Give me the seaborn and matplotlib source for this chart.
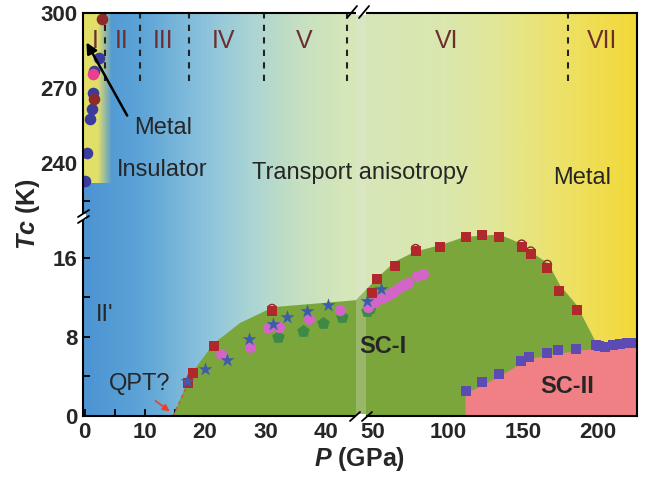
import numpy as np
import pandas as pd
import matplotlib
matplotlib.use("Agg")
import matplotlib.pyplot as plt
import seaborn as sns
from matplotlib.colors import LinearSegmentedColormap

# ---------------- data ----------------
# high-temperature panel (K) : metal/insulator transition points
hiT_blue_p = [0.0, 0.35, 0.9, 1.2, 1.35, 1.6, 2.45]
hiT_blue_t = [232.8, 244.0, 257.6, 261.6, 268.0, 277.0, 282.0]
hiT_red_p = [1.6, 2.85]
hiT_red_t = [265.6, 297.6]
hiT_pink_p = [1.35]
hiT_pink_t = [275.5]

# superconducting Tc (K)
sq_p = [17.2, 18.05, 21.5, 31.1, 49.1, 52.9, 64.7, 78.4, 94.7, 112.0, 122.4,
        133.8, 149.1, 155.1, 166.2, 174.0, 185.8]
sq_t = [3.3, 4.3, 7.07, 10.6, 12.45, 13.8, 15.15, 16.67, 17.04, 18.05, 18.25,
        18.1, 17.1, 16.36, 14.98, 12.66, 10.7]
ring_p = [31.1, 78.4, 149.1, 155.1, 166.2]
ring_t = [10.85, 16.9, 17.35, 16.65, 15.3]
star_p = [16.95, 20.0, 23.7, 27.2, 31.3, 33.5, 36.85, 40.3, 46.0, 55.3]
star_t = [3.54, 4.7, 5.66, 7.78, 9.3, 10.0, 10.64, 11.2, 11.65, 12.8]
pinkc_p = [22.6, 27.45, 30.5, 32.25, 37.2, 42.4, 46.9, 51.3, 55.8, 60.2, 63.6,
           66.9, 70.2, 73.6, 79.1, 83.6]
pinkc_t = [6.26, 7.0, 8.86, 8.96, 9.8, 10.7, 11.04, 11.55, 11.9, 12.2, 12.55,
           12.9, 13.2, 13.4, 14.1, 14.3]
pent_p = [32.1, 36.3, 39.5, 42.65, 46.3, 47.8]
pent_t = [8.0, 8.6, 9.4, 10.0, 10.6, 10.9]
purp_p = [112.0, 122.4, 134.0, 148.7, 154.2, 165.8, 173.1, 185.3, 198.4, 200.9,
          204.7, 210.2, 214.7, 219.0, 223.5]
purp_t = [2.56, 3.4, 4.2, 5.6, 6.0, 6.4, 6.67, 6.77, 7.17, 7.1, 7.0, 7.17,
          7.27, 7.34, 7.4]

# phase regions
dome_p = [14.7, 16.7, 18.0, 21.4, 25.8, 31.3, 40.2, 45.0, 46.9, 54.7, 64.7, 78.0,
          95.8, 111.3, 131.3, 134.7, 149.1, 156.9, 166.9, 174.7, 185.8, 198.4,
          200.5, 200.5]
dome_t = [0.0, 2.9, 4.5, 7.3, 9.4, 11.0, 11.45, 11.7, 13.0, 14.2, 15.6, 16.6,
          17.3, 18.1, 18.3, 18.3, 17.4, 16.4, 15.4, 13.2, 11.2, 7.5, 6.9, 0.0]
sc2_p = [111.3, 122.4, 133.6, 148.0, 154.7, 165.8, 185.8, 201.3, 226.0]
sc2_t = [2.3, 3.1, 4.0, 5.3, 5.8, 6.2, 6.6, 6.9, 7.2]
qpt_p = [14.7, 17.2]
qpt_t = [0.0, 3.3]

phase_names = ["I", "II", "III", "IV", "V", "VI", "VII"]
phase_name_p = [1.8, 6.2, 13.0, 23.0, 36.4, 99.3, 203.0]
phase_bound_p = [3.4, 9.2, 17.4, 29.8, 43.6, 179.8]

x_major = [0, 10, 20, 30, 40, 50, 100, 150, 200]
x_minor = [5, 15, 25, 35, 75, 125, 175]
y_major = [0, 8, 16, 240, 270, 300]
y_minor = [4, 12, 225, 255, 285]

# ---------------- style ----------------
sns.set_theme(style="white")
plt.rcParams["font.family"] = ["Liberation Sans", "DejaVu Sans"]
plt.rcParams["mathtext.fontset"] = "custom"
plt.rcParams["mathtext.it"] = "Liberation Sans:italic:bold"
plt.rcParams["mathtext.rm"] = "Liberation Sans:bold"

RED = "#b0282b"
DARKRED = "#8e2a2a"
NAVY = "#3a3b9c"
MAGENTA = "#ea3f8a"
STAR = "#3d5cab"
PINKC = "#d465c8"
PENT = "#3e8a44"
PURPLE = "#5b4bb3"
GREEN = "#7aa63c"
SALMON = "#f07f86"
BROWN = "#6e2e2e"


def make_piecewise(kx, ky):
    kx = np.asarray(kx, float)
    ky = np.asarray(ky, float)
    s0 = (ky[1] - ky[0]) / (kx[1] - kx[0])
    s1 = (ky[-1] - ky[-2]) / (kx[-1] - kx[-2])

    def f(v):
        v = np.asarray(v, float)
        out = np.interp(v, kx, ky)
        out = np.where(v < kx[0], ky[0] + (v - kx[0]) * s0, out)
        out = np.where(v > kx[-1], ky[-1] + (v - kx[-1]) * s1, out)
        return out
    return f


XK_D = [0, 45, 45.05, 226]
XK_P = [0, 271.35, 281.075, 552.5]
YK_D = [0, 20.2, 219, 300]
YK_P = [0, 199.98, 200.5, 403]

fig = plt.figure(figsize=(6.57, 4.80), dpi=100)
ax = fig.add_axes([83 / 657, 64 / 480, 554 / 657, 403 / 480])
ax.set_xscale("function", functions=(make_piecewise(XK_D, XK_P), make_piecewise(XK_P, XK_D)))
ax.set_yscale("function", functions=(make_piecewise(YK_D, YK_P), make_piecewise(YK_P, YK_D)))

# background gradient (axes coordinates)
stops = [(0.00, (76, 148, 210)), (0.10, (92, 163, 215)), (0.22, (140, 195, 220)),
         (0.30, (170, 212, 212)), (0.38, (195, 223, 195)), (0.47, (213, 230, 185)),
         (0.65, (218, 232, 175)), (0.75, (226, 231, 150)), (0.85, (236, 226, 110)),
         (1.00, (243, 217, 55))]
bg_cmap = LinearSegmentedColormap.from_list(
    "bg", [(s, tuple(c / 255 for c in col)) for s, col in stops])
grad = np.linspace(0, 1, 600)[None, :]
ax.imshow(grad, cmap=bg_cmap, extent=[0, 1, 0, 1], transform=ax.transAxes,
          aspect="auto", zorder=0, interpolation="bilinear")

# metal strip at low pressure / high T
strip = np.zeros((2, 60, 4))
strip[..., 0] = 226 / 255
strip[..., 1] = 223 / 255
strip[..., 2] = 105 / 255
alpha = np.clip((1 - np.linspace(0, 1, 60)) / 0.5, 0, 1)
strip[..., 3] = alpha[None, :]
ax.imshow(strip, extent=[-0.25, 4.5, 232, 300], aspect="auto", zorder=1,
          interpolation="bilinear")

# SC-I dome and SC-II region
ax.fill(dome_p, dome_t, color=GREEN, lw=0, zorder=2)
ax.fill_between(sc2_p, 0, sc2_t, color=SALMON, lw=0, zorder=3)
ax.plot(qpt_p, qpt_t, color="#e0503c", ls=(0, (2, 2)), lw=1.2, zorder=3)

# gap band of broken axis
ax.axvspan(45.0, 45.05, facecolor="#e6e6e0", alpha=0.28, lw=0, zorder=4)

# phase boundaries
ax.vlines(phase_bound_p, 273, 300, colors="#222222", linestyles=(0, (3, 3)),
          lw=1.5, zorder=4)
for name, p in zip(phase_names, phase_name_p):
    ax.text(p, 289, name, color=BROWN, fontsize=18, ha="center", va="center", zorder=6)

# scatter series
ax.scatter(ring_p, ring_t, s=36, facecolors="none", edgecolors=DARKRED, linewidths=1.0, zorder=5)
sns.scatterplot(x=sq_p, y=sq_t, marker="s", s=60, color=RED, linewidth=0, ax=ax, zorder=6)
sns.scatterplot(x=purp_p, y=purp_t, marker="s", s=55, color=PURPLE, linewidth=0, ax=ax, zorder=6)
sns.scatterplot(x=pent_p, y=pent_t, marker="p", s=90, color=PENT, linewidth=0, ax=ax, zorder=5)
sns.scatterplot(x=pinkc_p, y=pinkc_t, marker="o", s=65, color=PINKC, linewidth=0, ax=ax, zorder=5)
sns.scatterplot(x=star_p, y=star_t, marker="*", s=110, color=STAR, linewidth=0, ax=ax, zorder=6)
sns.scatterplot(x=hiT_blue_p, y=hiT_blue_t, marker="o", s=70, color=NAVY, linewidth=0, ax=ax, zorder=6)
sns.scatterplot(x=hiT_red_p, y=hiT_red_t, marker="o", s=70, color=DARKRED, linewidth=0, ax=ax, zorder=6)
sns.scatterplot(x=hiT_pink_p, y=hiT_pink_t, marker="o", s=70, color=MAGENTA, linewidth=0, ax=ax, zorder=7)

# labels
ax.annotate("", xy=(0.1, 289.2), xytext=(7.3, 258),
            arrowprops=dict(arrowstyle="-|>", color="black", lw=1.8, mutation_scale=16),
            zorder=7)
ax.text(13.1, 254, "Metal", fontsize=17, ha="center", va="center", zorder=7)
ax.text(12.9, 237, "Insulator", fontsize=17, ha="center", va="center", zorder=7)
ax.text(27.8, 236, "Transport anisotropy", fontsize=17, ha="left", va="center", zorder=7)
ax.text(189.3, 234, "Metal", fontsize=17, ha="center", va="center", zorder=7)
ax.text(3.4, 10.2, "II'", fontsize=17, ha="center", va="center", zorder=7)
ax.text(9.2, 3.2, "QPT?", fontsize=17, ha="center", va="center", zorder=7)
ax.text(56.7, 7.0, "SC-I", fontsize=17, fontweight="bold", ha="center", va="center", zorder=7)
ax.text(179.3, 3.0, "SC-II", fontsize=17, fontweight="bold", ha="center", va="center", zorder=7)
ax.annotate("", xy=(14.5, 0.3), xytext=(11.4, 1.7),
            arrowprops=dict(arrowstyle="-|>", color="#e8412c", lw=1.2, mutation_scale=10),
            zorder=7)

# axes
ax.set_xlim(-0.25, 226)
ax.set_ylim(0, 300)
ax.set_xticks(x_major)
ax.set_xticks(x_minor, minor=True)
ax.set_yticks(y_major)
ax.set_yticks(y_minor, minor=True)
ax.set_xticklabels([str(v) for v in x_major])
ax.set_yticklabels([str(v) for v in y_major])
ax.tick_params(which="both", direction="in", length=5, width=1.3, color="black",
               bottom=True, left=True, top=False, right=False, pad=4)
ax.tick_params(which="major", labelsize=16)
for lab in ax.get_xticklabels() + ax.get_yticklabels():
    lab.set_fontweight("bold")
for sp in ax.spines.values():
    sp.set_visible(True)
    sp.set_color("black")
    sp.set_linewidth(1.5)
    sp.set_zorder(8)

ax.set_xlabel(r"$P$ (GPa)", fontsize=18, fontweight="bold", labelpad=2)
ax.set_ylabel(r"$Tc$ (K)", fontsize=18, fontweight="bold", labelpad=-1)


# broken-axis marks (pixel positions -> axes fraction)
def pa(x, y):
    return (x - 83) / 554, (416 - y) / 403


def mark(x0, y0, x1, y1):
    a, b = pa(x0, y0)
    c, d = pa(x1, y1)
    ax.plot([a, c], [b, d], transform=ax.transAxes, color="black", lw=1.3,
            clip_on=False, zorder=10)


def gap(x0, y0, x1, y1):
    a, b = pa(x0, y0)
    c, d = pa(x1, y1)
    ax.add_patch(plt.Rectangle((min(a, c), min(b, d)), abs(c - a), abs(d - b),
                               transform=ax.transAxes, facecolor="white",
                               edgecolor="none", clip_on=False, zorder=9))


gap(80, 213.5, 86, 219.5)
mark(78, 217, 89, 210)
mark(78, 223, 89, 216)
gap(356, 414, 366, 418)
mark(350, 421, 360, 412)
mark(362, 421, 372, 412)
gap(356, 11, 366, 15)
mark(347, 18, 357, 6)
mark(359, 18, 369, 6)

fig.savefig("out.png", dpi=100)
